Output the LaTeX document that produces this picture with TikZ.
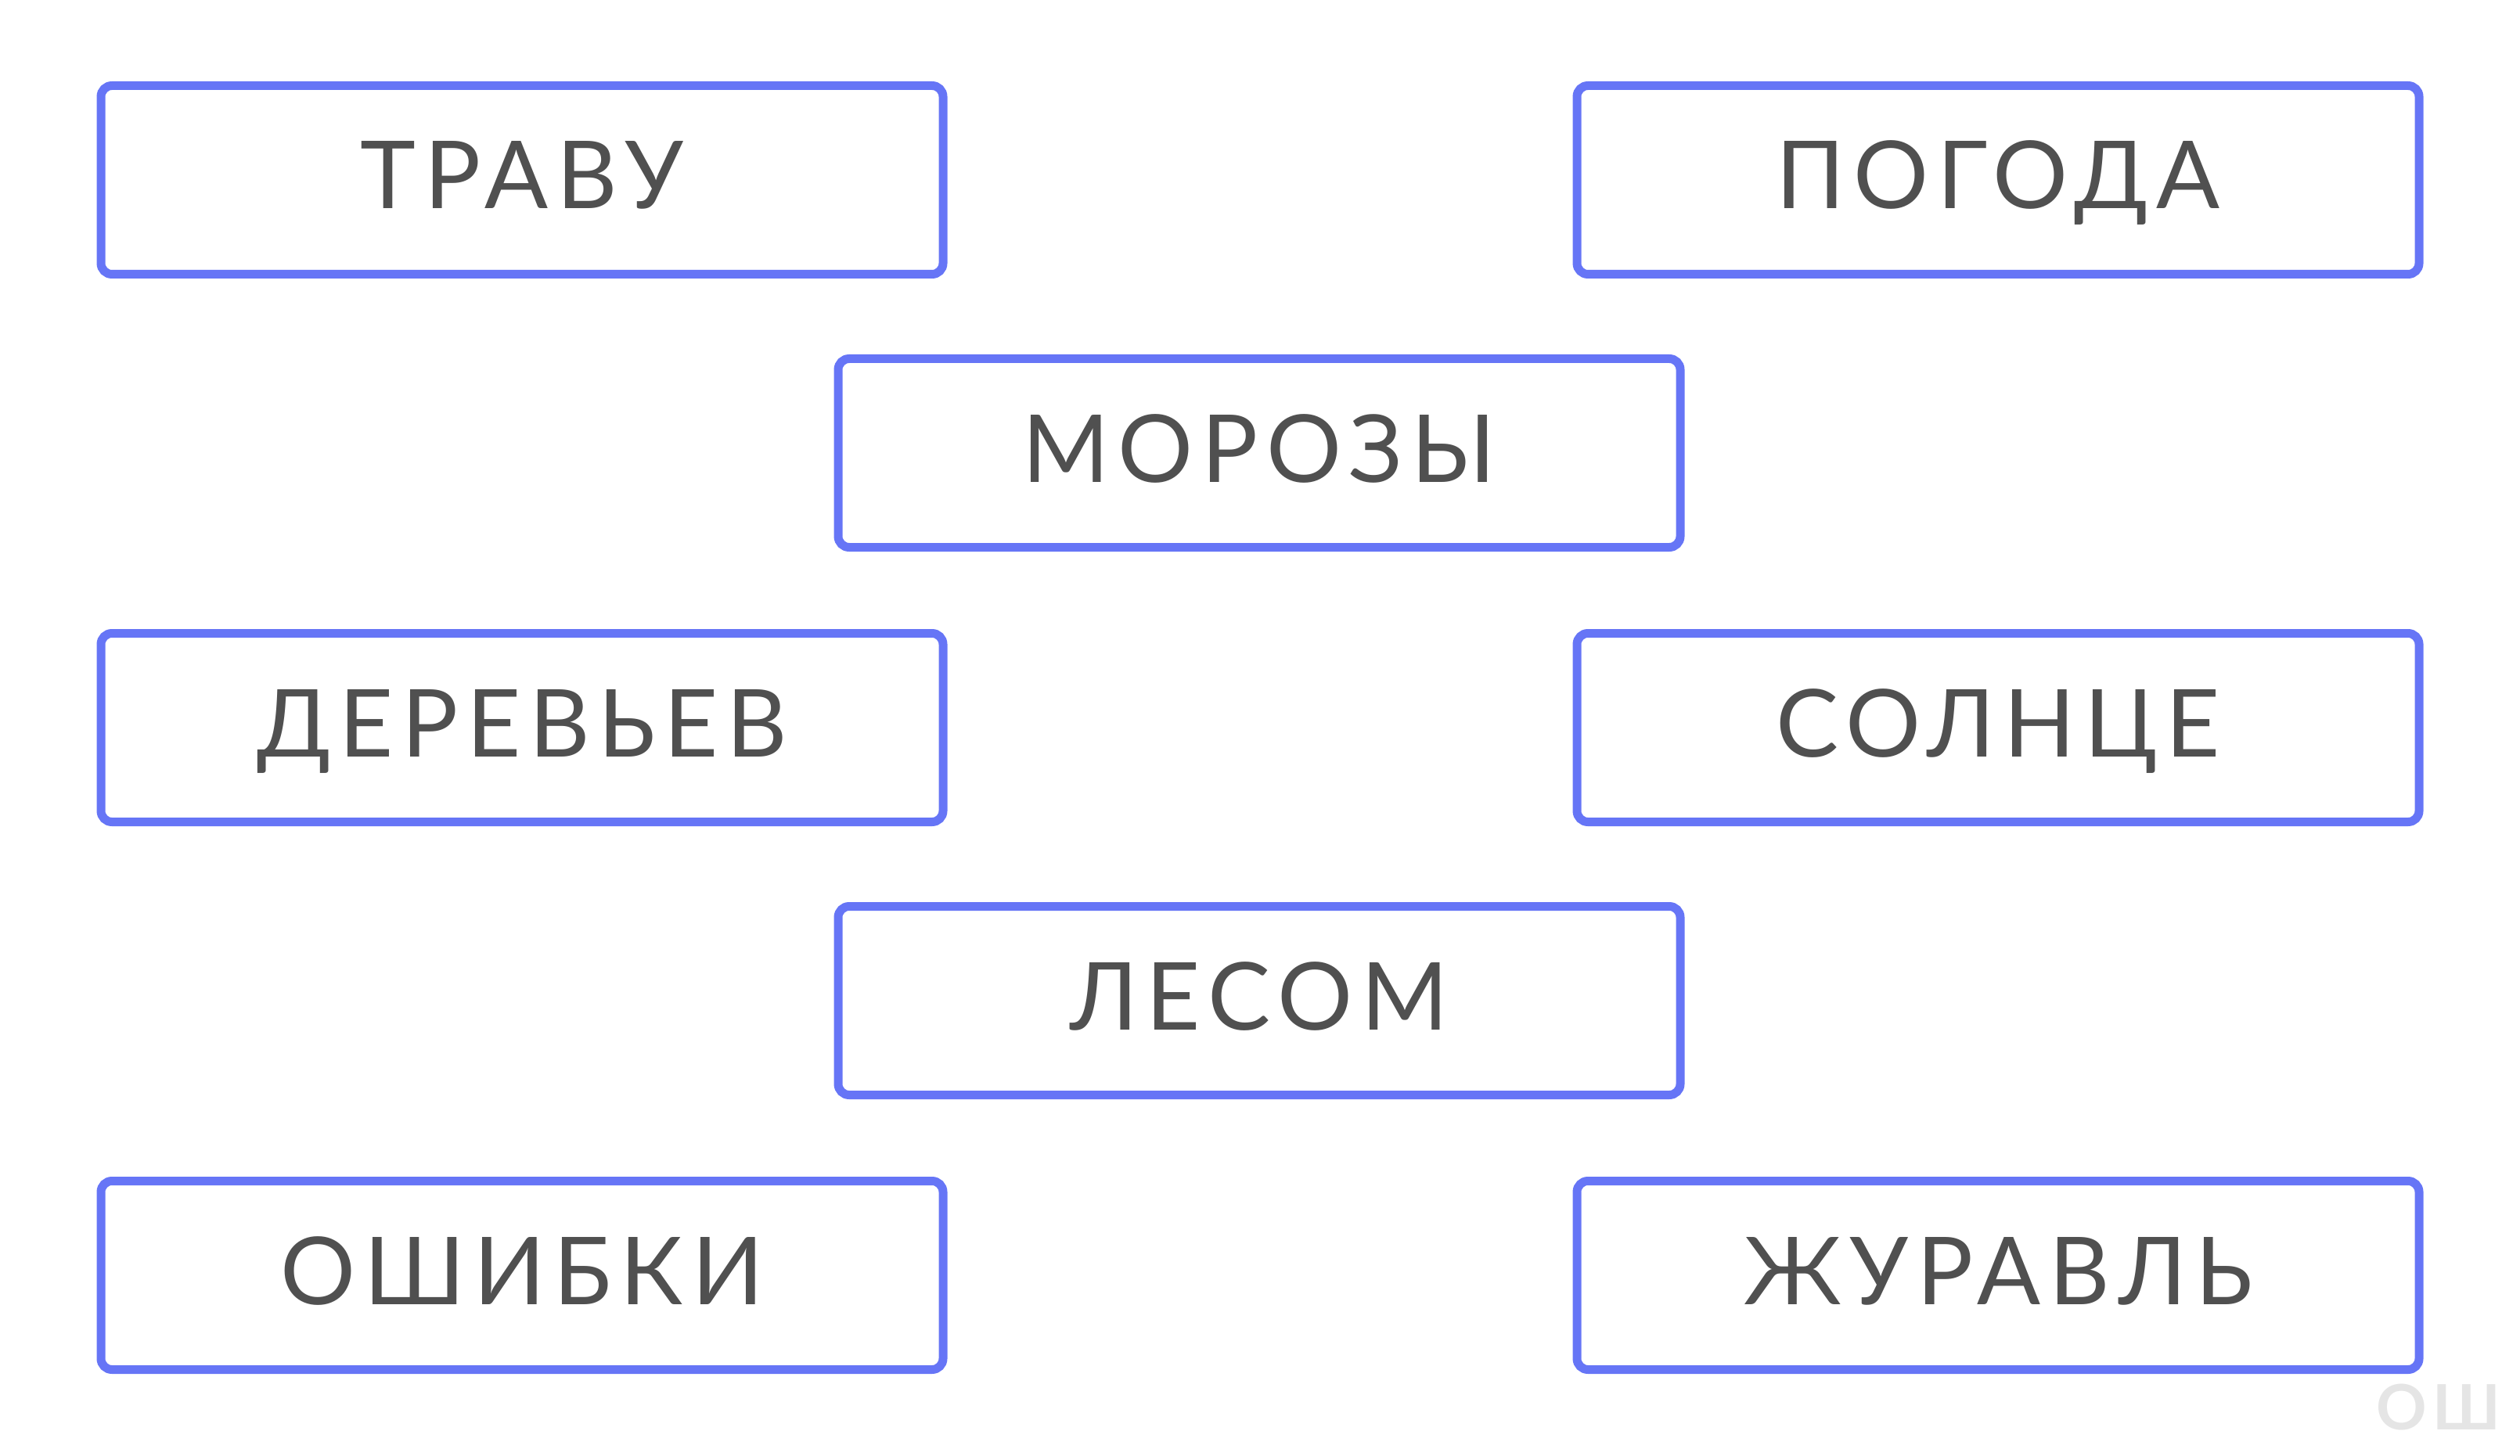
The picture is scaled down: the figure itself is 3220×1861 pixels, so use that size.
\documentclass[tikz,border=0pt]{standalone}
\usepackage{fontspec}
\setmainfont{Lato}[LetterSpace=9]
\usepackage{tikz}
\usetikzlibrary{positioning}
\definecolor{boxblue}{RGB}{102,117,246}
\definecolor{wordgray}{RGB}{80,80,80}
\definecolor{markgray}{RGB}{229,229,229}
\tikzset{
  wordbox/.style={
    draw=boxblue, line width=2.75pt, rounded corners=3.5pt,
    fill=white, text=wordgray, font=\fontsize{30}{36}\selectfont,
    minimum width=269pt, minimum height=60.25pt,
    text height=21.5pt, text depth=3pt, inner sep=0pt
  }
}
\begin{document}
\begin{tikzpicture}[x=0.25pt, y=-0.25pt]
  \useasboundingbox (0,0) rectangle (3220,1861);
  % left column
  \node[wordbox] (trava) at (667,230) {ТРАВУ};
  \node[wordbox] (derevya) at (667,930) {ДЕРЕВЬЕВ};
  \node[wordbox] (oshibki) at (667,1630) {ОШИБКИ};
  % middle column
  \node[wordbox] (morozy) at (1609,579) {МОРОЗЫ};
  \node[wordbox] (lesom) at (1609,1279) {ЛЕСОМ};
  % right column
  \node[wordbox] (pogoda) at (2553,230) {ПОГОДА};
  \node[wordbox] (solnce) at (2553,930) {СОЛНЦЕ};
  \node[wordbox] (zhuravl) at (2553,1630) {ЖУРАВЛЬ};

  \node[text=markgray, font=\fontsize{20}{24}\selectfont\bfseries, anchor=north east,
    inner sep=0pt, text height=14.75pt, text depth=0pt] (mark) at (3196,1768) {ОШ};
\end{tikzpicture}
\end{document}
